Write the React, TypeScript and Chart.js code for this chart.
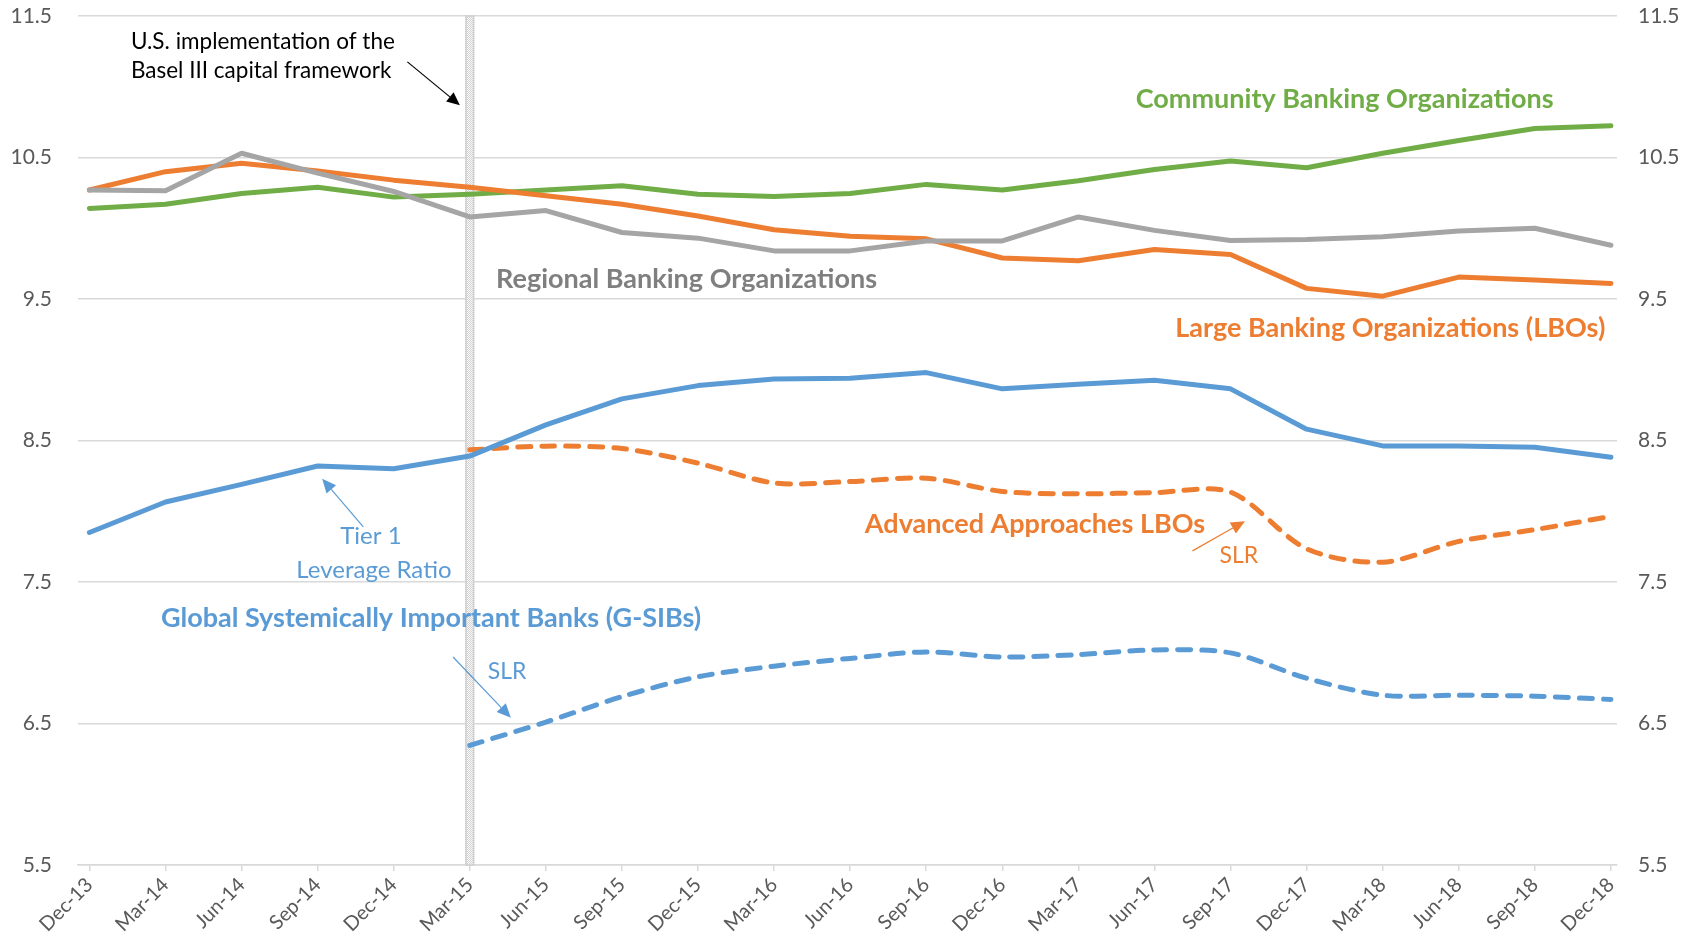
import React, { useEffect, useRef } from "react";
import { Chart, registerables } from "chart.js";

Chart.register(...registerables);

const categories = [
  "Dec-13", "Mar-14", "Jun-14", "Sep-14", "Dec-14", "Mar-15", "Jun-15", "Sep-15", "Dec-15", "Mar-16", "Jun-16",
  "Sep-16", "Dec-16", "Mar-17", "Jun-17", "Sep-17", "Dec-17", "Mar-18", "Jun-18", "Sep-18", "Dec-18",
];

const communityBanking = [
  10.14, 10.17, 10.245, 10.29, 10.22, 10.24, 10.27, 10.3, 10.24, 10.225, 10.245,
  10.31, 10.27, 10.335, 10.415, 10.476, 10.427, 10.53, 10.62, 10.705, 10.725,
];
const regionalBanking = [
  10.27, 10.265, 10.53, 10.39, 10.26, 10.08, 10.125, 9.97, 9.93, 9.84, 9.84,
  9.91, 9.91, 10.08, 9.985, 9.914, 9.92, 9.94, 9.98, 10.0, 9.88,
];
const largeBanking = [
  10.27, 10.4, 10.46, 10.405, 10.34, 10.29, 10.23, 10.17, 10.086, 9.99, 9.944,
  9.925, 9.79, 9.77, 9.85, 9.815, 9.575, 9.52, 9.655, 9.635, 9.61,
];
const gsibTier1 = [
  7.85, 8.065, 8.19, 8.32, 8.3, 8.39, 8.61, 8.794, 8.888, 8.935, 8.94,
  8.98, 8.865, 8.898, 8.926, 8.865, 8.58, 8.462, 8.462, 8.453, 8.382,
];
const advancedSLR = [
  null, null, null, null, null, 8.434, 8.46, 8.443, 8.34, 8.2, 8.21,
  8.234, 8.14, 8.123, 8.132, 8.135, 7.735, 7.64, 7.787, 7.87, 7.964,
];
const gsibSLR = [
  null, null, null, null, null, 6.345, 6.51, 6.69, 6.83, 6.905, 6.96,
  7.006, 6.97, 6.987, 7.02, 6.999, 6.82, 6.7, 6.7, 6.693, 6.67,
];
const yTicks = [5.5, 6.5, 7.5, 8.5, 9.5, 10.5, 11.5];

const basel3Index = 5;

const GREEN = "#70AD47";
const ORANGE = "#ED7D31";
const GRAY = "#A5A5A5";
const BLUE = "#5B9BD5";
const FONT = "Lato, 'Noto Sans', sans-serif";

// annotation positions in data space (x = category index, y = value)
const textNotes = [
  { text: "Community Banking Organizations", x: 16.5, y: 10.91, color: GREEN, bold: true, size: 27, align: "center" },
  { text: "Regional Banking Organizations", x: 7.85, y: 9.64, color: "#7F7F7F", bold: true, size: 27, align: "center" },
  { text: "Large Banking Organizations (LBOs)", x: 17.1, y: 9.29, color: ORANGE, bold: true, size: 27, align: "center" },
  { text: "Advanced Approaches LBOs", x: 12.43, y: 7.91, color: ORANGE, bold: true, size: 27, align: "center" },
  { text: "Global Systemically Important Banks (G-SIBs)", x: 4.49, y: 7.24, color: BLUE, bold: true, size: 27, align: "center" },
  { text: "Tier 1", x: 3.7, y: 7.82, color: BLUE, bold: false, size: 24, align: "center" },
  { text: "Leverage Ratio", x: 3.74, y: 7.58, color: BLUE, bold: false, size: 24, align: "center" },
  { text: "SLR", x: 5.49, y: 6.87, color: BLUE, bold: false, size: 23, align: "center" },
  { text: "SLR", x: 15.11, y: 7.69, color: ORANGE, bold: false, size: 23, align: "center" },
  { text: "U.S. implementation of the", x: 0.546, y: 11.32, color: "#000000", bold: false, size: 22.5, align: "left" },
  { text: "Basel III capital framework", x: 0.546, y: 11.11, color: "#000000", bold: false, size: 22.5, align: "left" },
];

const arrowNotes = [
  { x1: 4.18, y1: 11.176, x2: 4.87, y2: 10.87, color: "#000000", width: 1.2, head: 13 },
  { x1: 3.6, y1: 7.89, x2: 3.06, y2: 8.23, color: BLUE, width: 1.2, head: 14 },
  { x1: 4.78, y1: 6.97, x2: 5.54, y2: 6.54, color: BLUE, width: 1.2, head: 14 },
  { x1: 14.5, y1: 7.72, x2: 15.19, y2: 7.93, color: ORANGE, width: 1.2, head: 14 },
];

const bandPlugin = {
  id: "basel3Band",
  beforeDatasetsDraw(chart: any) {
    const { ctx, chartArea, scales } = chart;
    const x = scales.x.getPixelForValue(basel3Index);
    const w = 9;
    const pc = document.createElement("canvas");
    pc.width = 2;
    pc.height = 2;
    const p = pc.getContext("2d")!;
    p.fillStyle = "#FAFAFA";
    p.fillRect(0, 0, 2, 2);
    p.fillStyle = "#D2D2D2";
    p.fillRect(0, 0, 1, 1);
    p.fillRect(1, 1, 1, 1);
    ctx.save();
    ctx.fillStyle = ctx.createPattern(pc, "repeat");
    ctx.fillRect(x - w / 2, chartArea.top, w, chartArea.bottom - chartArea.top);
    ctx.strokeStyle = "#CFCFCF";
    ctx.lineWidth = 1.5;
    ctx.strokeRect(x - w / 2 + 0.75, chartArea.top, w - 1.5, chartArea.bottom - chartArea.top);
    ctx.restore();
  },
};

const notesPlugin = {
  id: "notes",
  afterDatasetsDraw(chart: any) {
    const { ctx, scales } = chart;
    const sx = scales.x;
    const sy = scales.y;
    ctx.save();
    for (const a of arrowNotes) {
      const x1 = sx.getPixelForValue(a.x1);
      const y1 = sy.getPixelForValue(a.y1);
      const x2 = sx.getPixelForValue(a.x2);
      const y2 = sy.getPixelForValue(a.y2);
      const ang = Math.atan2(y2 - y1, x2 - x1);
      const hl = a.head;
      const hw = hl * 0.45;
      const bx = x2 - hl * Math.cos(ang);
      const by = y2 - hl * Math.sin(ang);
      ctx.strokeStyle = a.color;
      ctx.lineWidth = a.width;
      ctx.beginPath();
      ctx.moveTo(x1, y1);
      ctx.lineTo(bx, by);
      ctx.stroke();
      ctx.fillStyle = a.color;
      ctx.beginPath();
      ctx.moveTo(x2, y2);
      ctx.lineTo(bx + hw * Math.sin(ang), by - hw * Math.cos(ang));
      ctx.lineTo(bx - hw * Math.sin(ang), by + hw * Math.cos(ang));
      ctx.closePath();
      ctx.fill();
    }
    for (const t of textNotes) {
      ctx.font = `${t.bold ? "bold " : ""}${t.size}px ${FONT}`;
      ctx.fillStyle = t.color;
      ctx.textAlign = t.align;
      ctx.textBaseline = "middle";
      ctx.fillText(t.text, sx.getPixelForValue(t.x), sy.getPixelForValue(t.y));
    }
    ctx.restore();
  },
};

export default function App() {
  const ref = useRef<HTMLCanvasElement | null>(null);

  useEffect(() => {
    if (!ref.current) return;
    const solid = (label: string, data: any[], color: string) => ({
      label,
      data: data.map((v, i) => ({ x: i, y: v })),
      borderColor: color,
      backgroundColor: color,
      borderWidth: 5,
      pointRadius: 0,
      tension: 0,
      borderCapStyle: "round",
      borderJoinStyle: "round",
    });
    const dashed = (label: string, data: any[], color: string) => ({
      label,
      data: data.map((v, i) => ({ x: i, y: v })),
      borderColor: color,
      backgroundColor: color,
      borderWidth: 5,
      pointRadius: 0,
      tension: 0.3,
      borderDash: [13, 11],
      borderCapStyle: "round",
      borderJoinStyle: "round",
      spanGaps: false,
    });
    const fitY = (scale: any) => {
      scale.width = 78;
      scale.paddingTop = 16;
      scale.paddingBottom = 0;
    };

    const chart = new Chart(ref.current, {
      type: "line",
      data: {
        datasets: [
          solid("Regional Banking Organizations", regionalBanking, GRAY),
          solid("Large Banking Organizations (LBOs)", largeBanking, ORANGE),
          solid("Community Banking Organizations", communityBanking, GREEN),
          solid("G-SIBs Tier 1 Leverage Ratio", gsibTier1, BLUE),
          dashed("Advanced Approaches LBOs SLR", advancedSLR, ORANGE),
          dashed("G-SIBs SLR", gsibSLR, BLUE),
        ] as any,
      },
      options: {
        animation: false,
        responsive: true,
        maintainAspectRatio: false,
        layout: { padding: 0 },
        plugins: { legend: { display: false }, tooltip: { enabled: false } },
        scales: {
          x: {
            type: "linear",
            min: -0.15,
            max: 20.08,
            afterBuildTicks: (scale: any) => {
              scale.ticks = categories.map((_, i) => ({ value: i }));
            },
            afterFit: (scale: any) => {
              scale.height = 83;
            },
            grid: { drawOnChartArea: false, drawTicks: true, tickLength: 6, color: "#D9D9D9", lineWidth: 1.5 },
            border: { display: true, color: "#D9D9D9", width: 1.5 },
            ticks: {
              autoSkip: false,
              maxRotation: 45,
              minRotation: 45,
              padding: 2,
              color: "#595959",
              font: { family: FONT, size: 20 },
              callback: (v: any) => categories[v as number] ?? "",
            },
          },
          y: {
            type: "linear",
            position: "left",
            min: 5.5,
            max: 11.5,
            afterBuildTicks: (scale: any) => {
              scale.ticks = yTicks.map((v) => ({ value: v }));
            },
            afterFit: fitY,
            grid: { color: "#D9D9D9", lineWidth: 1.5, drawTicks: false },
            border: { display: false },
            ticks: {
              padding: 26,
              color: "#595959",
              font: { family: FONT, size: 21 },
              callback: (v: any) => Number(v).toFixed(1),
            },
          },
          y2: {
            type: "linear",
            position: "right",
            min: 5.5,
            max: 11.5,
            afterBuildTicks: (scale: any) => {
              scale.ticks = yTicks.map((v) => ({ value: v }));
            },
            afterFit: fitY,
            grid: { drawOnChartArea: false, drawTicks: false },
            border: { display: false },
            ticks: {
              padding: 21,
              color: "#595959",
              font: { family: FONT, size: 21 },
              callback: (v: any) => Number(v).toFixed(1),
            },
          },
        },
      } as any,
      plugins: [bandPlugin, notesPlugin],
    });
    return () => chart.destroy();
  }, []);

  return (
    <div style={{ position: "fixed", left: 0, top: 0, width: 1695, height: 948, background: "#ffffff" }}>
      <canvas ref={ref} />
    </div>
  );
}
